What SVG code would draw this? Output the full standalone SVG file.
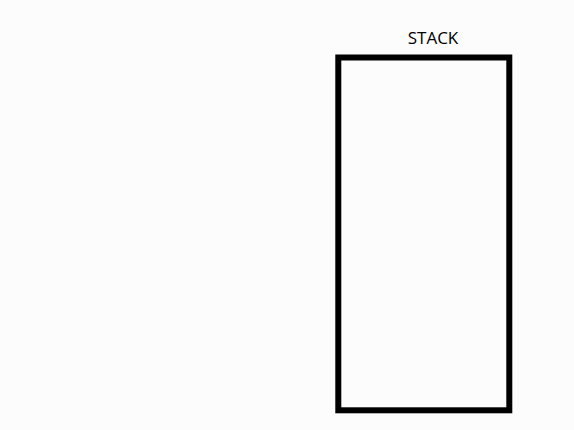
<svg xmlns="http://www.w3.org/2000/svg" width="574" height="430" viewBox="0 0 574 430">
<style>
.box{fill:none;stroke:#000;stroke-width:6}
.lbl{font-family:"Open Sans","Liberation Sans",sans-serif;font-size:17px;fill:#000;text-anchor:middle}
</style>
<rect width="574" height="430" fill="#fcfcfc"/>
<g id="stack">
<text class="lbl" x="433" y="44.3">STACK</text>
<rect class="box" x="338.3" y="57.5" width="171" height="352.8"/>
</g>
<g id="connectors"></g>
</svg>
